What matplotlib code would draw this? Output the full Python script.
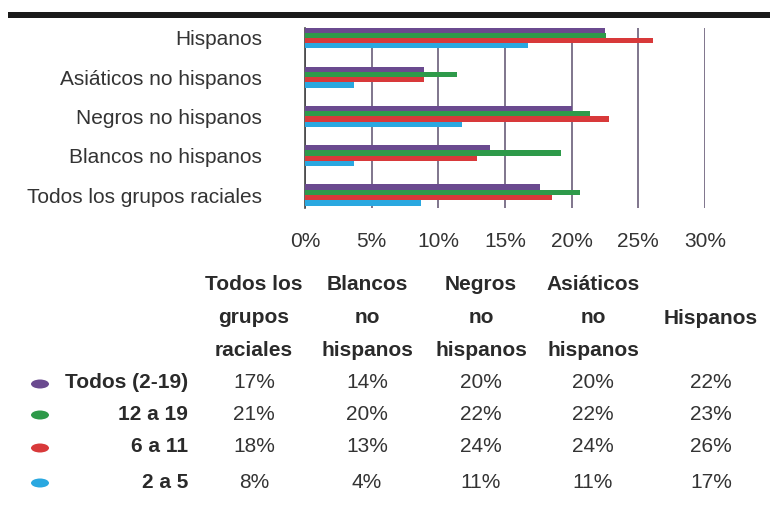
import numpy as np
import matplotlib
matplotlib.use('Agg')
import matplotlib.pyplot as plt
from matplotlib.patches import Ellipse, Rectangle

plt.rcParams['font.family'] = ['Liberation Sans', 'DejaVu Sans']

# datos
grupos = ['Todos los grupos raciales', 'Blancos no hispanos', 'Negros no hispanos',
          'Asiáticos no hispanos', 'Hispanos']
series = ['Todos (2-19)', '12 a 19', '6 a 11', '2 a 5']
colores = ['#6a4a8f', '#2e9a4a', '#d8393a', '#2aa8e0']

# valores de las barras, en el orden de grupos
todos = [17.6, 13.9, 20.0, 8.9, 22.5]
g12_19 = [20.6, 19.2, 21.4, 11.4, 22.6]
g6_11 = [18.5, 12.9, 22.8, 8.9, 26.1]
g2_5 = [8.7, 3.7, 11.8, 3.7, 16.7]
valores = [todos, g12_19, g6_11, g2_5]

# tabla de abajo
encabezados = ['Todos los\ngrupos\nraciales', 'Blancos\nno\nhispanos', 'Negros\nno\nhispanos',
               'Asiáticos\nno\nhispanos', 'Hispanos']
tabla = [['17%', '14%', '20%', '20%', '22%'],
         ['21%', '20%', '22%', '22%', '23%'],
         ['18%', '13%', '24%', '24%', '26%'],
         ['8%', '4%', '11%', '11%', '17%']]
xticks = [0, 5, 10, 15, 20, 25, 30]

fig = plt.figure(figsize=(7.7, 5.13), dpi=100)
W, H = 770, 513

def fx(px):
    return px / W

def fy(py):
    return 1 - py / H

ax = fig.add_axes([fx(305), fy(208), fx(705) - fx(305), fy(28) - fy(208)])

y = np.arange(len(grupos))
h = 0.135
for i, (vals, c) in enumerate(zip(valores, colores)):
    ax.barh(y + (1.5 - i) * h, vals, height=h, color=c, zorder=3)

ax.set_xlim(0, 30)
ax.set_ylim(-0.33, 4.25)
ax.set_xticks(xticks)
ax.set_xticklabels([f'{t}%' for t in xticks])
ax.set_yticks(y)
ax.set_yticklabels(grupos)
ax.tick_params(axis='both', length=0, labelsize=15, labelcolor='#333333')
ax.tick_params(axis='x', pad=17)
ax.tick_params(axis='y', pad=31)
ax.xaxis.grid(True, color='#5d4f6e', linewidth=1.1, zorder=0)
for s in ['top', 'right', 'bottom']:
    ax.spines[s].set_visible(False)
ax.spines['left'].set_color('#444444')
ax.spines['left'].set_linewidth(1.2)

# barra negra superior
fig.add_artist(Rectangle((fx(8), fy(18)), 1 - fx(8), fy(12) - fy(18),
                         transform=fig.transFigure, color='#1a1a1a', lw=0))

# tabla
col_x = [254, 367, 481, 593, 711]
for cx, enc in zip(col_x, encabezados):
    n = enc.count('\n')
    top = 284 if n == 2 else 318
    for k, linea in enumerate(enc.split('\n')):
        fig.text(fx(cx), fy(top + k * 33.5), linea, ha='center', va='center',
                 fontsize=15, fontweight='bold', color='#2a2a2a')

fila_y = [383, 414, 447, 482]
for fy_px, nombre, c, fila in zip(fila_y, series, colores, tabla):
    fig.add_artist(Ellipse((fx(40), fy(fy_px + 1)), fx(18), 9 / H,
                           transform=fig.transFigure, color=c, lw=0))
    fig.text(fx(188), fy(fy_px), nombre, ha='right', va='center',
             fontsize=15, fontweight='bold', color='#2a2a2a')
    for cx, v in zip(col_x, fila):
        fig.text(fx(cx), fy(fy_px), v, ha='center', va='center',
                 fontsize=15, color='#333333')

fig.savefig('out.png', dpi=100)
